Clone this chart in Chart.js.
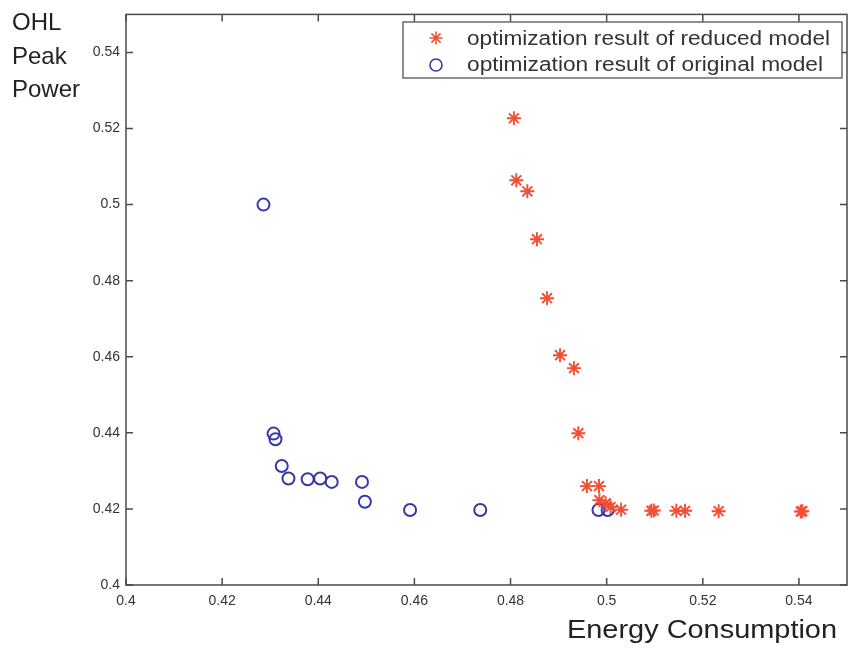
<!DOCTYPE html>
<html>
<head>
<meta charset="utf-8">
<script src="https://cdn.jsdelivr.net/npm/chart.js@4.4.1/dist/chart.umd.min.js"></script>
<style>
  body { margin: 0; background: #fff; }
  canvas { display: block; }
</style>
</head>
<body>
<canvas id="peakChart" width="851" height="650"></canvas>
<script>
//Data
const reducedEnergy = [0.4807, 0.4812, 0.4835, 0.4855, 0.4876, 0.4903, 0.4932, 0.4941, 0.4959, 0.4984,
    0.4985, 0.4998, 0.5008, 0.5030, 0.5093, 0.5098, 0.5145, 0.5163, 0.5233, 0.5404, 0.5407];
const reducedPeak = [0.5227, 0.5064, 0.5035, 0.4909, 0.4754, 0.4604, 0.4570, 0.4399, 0.4260, 0.4260,
    0.4223, 0.4215, 0.4205, 0.4198, 0.4195, 0.4196, 0.4195, 0.4195, 0.4194, 0.4193, 0.4194];

const originalEnergy = [0.4286, 0.4307, 0.4311, 0.4324, 0.4338, 0.4378, 0.4404, 0.4428, 0.4491, 0.4497,
    0.4591, 0.4737, 0.4983, 0.5002];
const originalPeak = [0.5000, 0.4398, 0.4383, 0.4313, 0.4280, 0.4278, 0.4280, 0.4271, 0.4271, 0.4219,
    0.4197, 0.4197, 0.4197, 0.4197];

const seriesNames = ['optimization result of reduced model', 'optimization result of original model'];
const yTitle = ['OHL', 'Peak', 'Power'];
const xTitle = 'Energy Consumption';

const starColor = 'rgb(242, 78, 52)';
const circleColor = 'rgb(55, 55, 170)';
const font = '"Liberation Sans", Arial, Helvetica, sans-serif';

const toPoints = (xs, ys) => xs.map((v, i) => ({ x: v, y: ys[i] }));
const fmt = v => String(+v.toFixed(2));

//draw a marker by hand for the legend
function drawMarker(ctx, style, x, y) {
    ctx.save();
    ctx.beginPath();
    if (style === 'star') {
        const r = 6.5, d = r * Math.SQRT1_2;
        ctx.strokeStyle = starColor;
        ctx.lineWidth = 1.5;
        ctx.moveTo(x - r, y); ctx.lineTo(x + r, y);
        ctx.moveTo(x, y - r); ctx.lineTo(x, y + r);
        ctx.moveTo(x - d, y - d); ctx.lineTo(x + d, y + d);
        ctx.moveTo(x - d, y + d); ctx.lineTo(x + d, y - d);
    } else {
        ctx.strokeStyle = circleColor;
        ctx.lineWidth = 1.6;
        ctx.arc(x, y, 6, 0, Math.PI * 2);
    }
    ctx.stroke();
    ctx.restore();
}

//text squeezed or stretched to a given width
function fitText(ctx, text, x, y, width) {
    const w = ctx.measureText(text).width;
    ctx.save();
    ctx.translate(x, y);
    ctx.scale(width / w, 1);
    ctx.fillText(text, 0, 0);
    ctx.restore();
}

//MATLAB-ish box, inward ticks, titles and legend
const frame = {
    id: 'frame',
    afterDraw(chart) {
        const { ctx, chartArea: { left, right, top, bottom }, scales: { x, y } } = chart;
        ctx.save();
        ctx.strokeStyle = '#4a4a4a';
        ctx.lineWidth = 1.5;
        ctx.strokeRect(left, top, right - left, bottom - top);

        ctx.beginPath();
        x.ticks.forEach(t => {
            const px = x.getPixelForValue(t.value);
            ctx.moveTo(px, bottom); ctx.lineTo(px, bottom - 7);
            ctx.moveTo(px, top); ctx.lineTo(px, top + 7);
        });
        y.ticks.forEach(t => {
            const py = y.getPixelForValue(t.value);
            ctx.moveTo(left, py); ctx.lineTo(left + 7, py);
            ctx.moveTo(right, py); ctx.lineTo(right - 7, py);
        });
        ctx.stroke();

        //axis titles
        ctx.fillStyle = '#222';
        ctx.textAlign = 'left';
        ctx.textBaseline = 'alphabetic';
        ctx.font = '24px ' + font;
        yTitle.forEach((line, i) => ctx.fillText(line, 12, 30 + i * 33.5));
        ctx.font = '26px ' + font;
        fitText(ctx, xTitle, 567, 638, 270);

        //legend
        const lx = 403, ly = 22, lw = 439, lh = 56;
        ctx.fillStyle = '#fff';
        ctx.fillRect(lx, ly, lw, lh);
        ctx.strokeStyle = '#444';
        ctx.lineWidth = 1.2;
        ctx.strokeRect(lx, ly, lw, lh);
        ctx.font = '20px ' + font;
        ctx.fillStyle = '#333';
        ctx.textBaseline = 'middle';
        fitText(ctx, seriesNames[0], 467, 39, 363);
        fitText(ctx, seriesNames[1], 467, 65, 356);
        drawMarker(ctx, 'star', 436, 38);
        drawMarker(ctx, 'circle', 436, 65);
        ctx.restore();
    }
};

const tickStyle = {
    stepSize: 0.02,
    includeBounds: false,
    autoSkip: false,
    maxRotation: 0,
    color: '#333',
    font: { family: font, size: 14 },
    callback: fmt
};

new Chart(document.getElementById('peakChart'), {
    type: 'scatter',
    data: {
        datasets: [{
            label: seriesNames[0],
            data: toPoints(reducedEnergy, reducedPeak),
            pointStyle: 'star',
            pointRadius: 7,
            borderColor: starColor,
            backgroundColor: starColor,
            pointBorderWidth: 1.9
        }, {
            label: seriesNames[1],
            data: toPoints(originalEnergy, originalPeak),
            pointStyle: 'circle',
            pointRadius: 6,
            borderColor: circleColor,
            backgroundColor: 'rgba(0,0,0,0)',
            pointBorderWidth: 2
        }]
    },
    options: {
        responsive: false,
        animation: false,
        layout: { autoPadding: false, padding: { top: 14, right: 4, left: 0, bottom: 0 } },
        scales: {
            x: {
                type: 'linear',
                min: 0.4,
                max: 0.55,
                ticks: { ...tickStyle, padding: 8 },
                grid: { display: false, drawTicks: false },
                border: { display: false },
                afterFit: s => { s.height = 65; }
            },
            y: {
                type: 'linear',
                min: 0.4,
                max: 0.55,
                ticks: { ...tickStyle, padding: 6 },
                grid: { display: false, drawTicks: false },
                border: { display: false },
                afterFit: s => { s.width = 126; }
            }
        },
        plugins: {
            legend: { display: false },
            tooltip: { enabled: false }
        }
    },
    plugins: [frame]
});
</script>
</body>
</html>
